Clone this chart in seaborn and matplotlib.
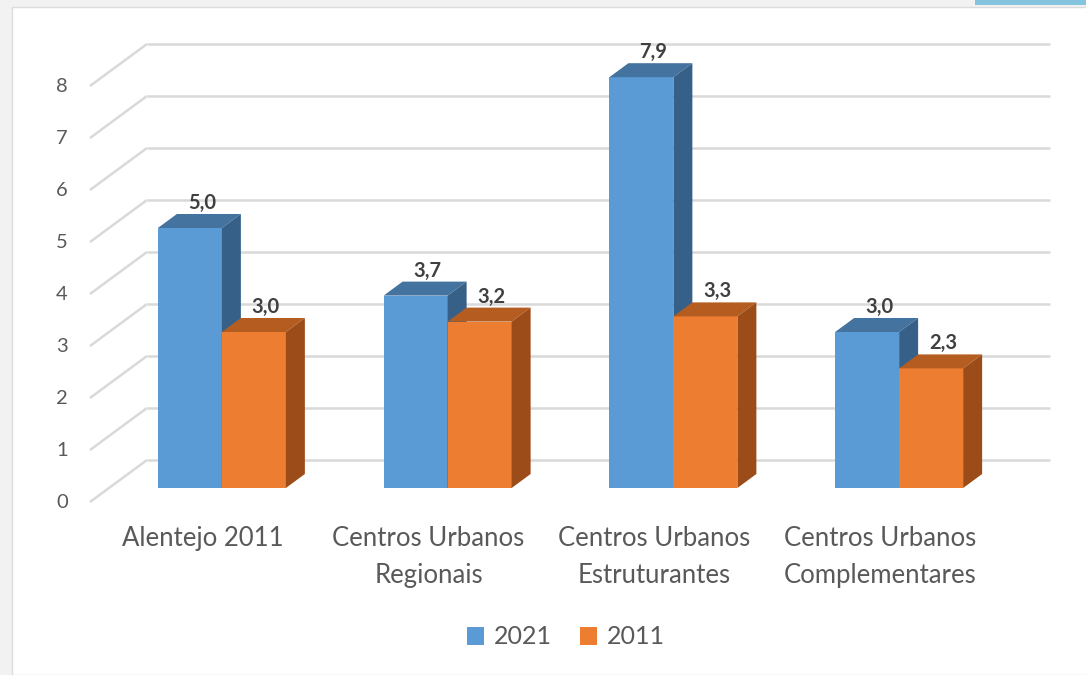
import matplotlib
matplotlib.use('Agg')
import matplotlib.pyplot as plt
from matplotlib.patches import Polygon, Rectangle
import pandas as pd
import seaborn as sns

# dados
categorias = ['Alentejo 2011', 'Centros Urbanos\nRegionais',
              'Centros Urbanos\nEstruturantes', 'Centros Urbanos\nComplementares']
anos = ['2021', '2011']
valores_2021 = [5.0, 3.7, 7.9, 3.0]
valores_2011 = [3.0, 3.2, 3.3, 2.3]
yticks = [0, 1, 2, 3, 4, 5, 6, 7, 8]

cores = {'2021': '#5b9bd5', '2011': '#ed7d31'}
cores_topo = {'2021': '#44739f', '2011': '#b55d20'}
cores_lado = {'2021': '#376089', '2011': '#9c4c18'}
cor_texto = '#595959'
cor_grelha = '#d9d9d9'

df = pd.DataFrame({
    'categoria': categorias * 2,
    'valor': valores_2021 + valores_2011,
    'ano': [anos[0]] * 4 + [anos[1]] * 4,
})

sns.set_style('white')
plt.rcParams['font.family'] = ['Lato', 'DejaVu Sans']

W, H = 1086, 675
fig = plt.figure(figsize=(W / 100, H / 100), dpi=100, facecolor='#f2f2f2')
# painel branco + faixa azul no topo
fig.patches.append(Rectangle((12 / W, 0), 1, 1 - 7 / H, transform=fig.transFigure,
                             facecolor='white', edgecolor='#dcdcdc', lw=1, zorder=-5))
fig.patches.append(Rectangle((975 / W, 1 - 5 / H), 1, 5 / H, transform=fig.transFigure,
                             facecolor='#84c4de', edgecolor='none', zorder=-5))

ax = fig.add_axes([109 / W, (H - 488) / H, (1012 - 109) / W, 416 / H])
ax.set_facecolor('none')

sns.barplot(data=df, x='categoria', y='valor', hue='ano', palette=cores,
            width=0.567, saturation=1, edgecolor='none', ax=ax, legend=True)
ax.set_xlim(-0.5, 3.5)
ax.set_ylim(0, 8)
for s in ax.spines.values():
    s.set_visible(False)
ax.set_xticks([])
ax.set_yticks([])
ax.set_xlabel('')
ax.set_ylabel('')

# escala pixel -> dados
x0p, y0p = ax.transData.transform((0, 0))
x1p, y1p = ax.transData.transform((1, 1))
sx, sy = x1p - x0p, y1p - y0p
# profundidade da barra e do "chão"
ddx, ddy = 19 / sx, 14 / sy

# grelha 3D (parede de fundo + diagonais da parede lateral)
for v in yticks:
    ax.plot([-0.5 - ddx, -0.5 + 2 * ddx], [v - ddy, v + 2 * ddy],
            color=cor_grelha, lw=1.8, clip_on=False, zorder=0.5, solid_capstyle='butt')
    ax.plot([-0.5 + 2 * ddx, 3.5 + 2 * ddx], [v + 2 * ddy, v + 2 * ddy],
            color=cor_grelha, lw=1.8, clip_on=False, zorder=0.5, solid_capstyle='butt')
    ax.text(-0.5 - ddx - 22 / sx, v - ddy, str(v), ha='right', va='center',
            fontsize=14.5, color=cor_texto)

# faces laterais e topos das barras
for k, (ano, cont) in enumerate(zip(anos, ax.containers)):
    for i, bar in enumerate(cont):
        x, w, h = bar.get_x(), bar.get_width(), bar.get_height()
        z = 2 + k + i * 0.01
        bar.set_zorder(z)
        topo = Polygon([(x, h), (x + w, h), (x + w + ddx, h + ddy), (x + ddx, h + ddy)],
                       closed=True, facecolor=cores_topo[ano], edgecolor='none',
                       zorder=z + 0.001, clip_on=False)
        lado = Polygon([(x + w, 0), (x + w, h), (x + w + ddx, h + ddy), (x + w + ddx, ddy)],
                       closed=True, facecolor=cores_lado[ano], edgecolor='none',
                       zorder=z + 0.001, clip_on=False)
        ax.add_patch(topo)
        ax.add_patch(lado)
        ax.text(x + w / 2 + 12 / sx, h + ddy + 1 / sy, f'{h:.1f}'.replace('.', ','),
                ha='center', va='bottom', fontsize=14.5, fontweight='bold',
                color='#404040', zorder=10, clip_on=False)

# rótulos das categorias
for i, cat in enumerate(categorias):
    ax.text(i - ddx, -ddy - 24 / sy, cat, ha='center', va='top', fontsize=18.5,
            color=cor_texto, linespacing=1.6, clip_on=False)

# legenda
handles, labels = ax.get_legend_handles_labels()
ax.get_legend().remove()
fig.legend(handles, labels, loc='center', bbox_to_anchor=(566 / W, 1 - 637 / H),
           ncol=2, frameon=False, fontsize=18, handlelength=0.7, handleheight=0.7,
           handletextpad=0.4, columnspacing=1.1, labelcolor=cor_texto)

fig.savefig('out.png', dpi=100, facecolor=fig.get_facecolor())
